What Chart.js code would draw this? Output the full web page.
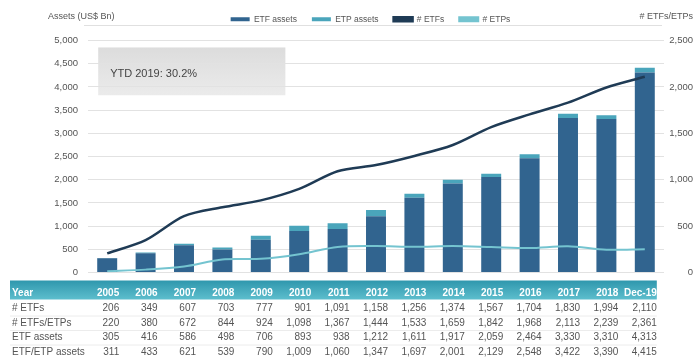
<!DOCTYPE html>
<html>
<head>
<meta charset="utf-8">
<script src="https://cdn.jsdelivr.net/npm/chart.js@4/dist/chart.umd.min.js"></script>
<style>
  html, body { margin: 0; padding: 0; background: #fff; }
  #wrap { width: 699px; height: 358px; }
</style>
</head>
<body>
<div id="wrap"><canvas id="etf-chart"></canvas></div>
<script>
const years = ['2005', '2006', '2007', '2008', '2009', '2010', '2011', '2012', '2013', '2014', '2015', '2016', '2017', '2018', 'Dec-19'];
const etfCount = [206, 349, 607, 703, 777, 901, 1091, 1158, 1256, 1374, 1567, 1704, 1830, 1994, 2110];
const totalCount = [220, 380, 672, 844, 924, 1098, 1367, 1444, 1533, 1659, 1842, 1968, 2113, 2239, 2361];
const etpCount = [14, 31, 65, 141, 147, 197, 276, 286, 277, 285, 275, 264, 283, 245, 251];
const etfAssets = [305, 416, 586, 498, 706, 893, 938, 1212, 1611, 1917, 2059, 2464, 3330, 3310, 4313];
const etpAssets = [6, 17, 35, 41, 84, 116, 122, 135, 86, 84, 70, 84, 92, 80, 102];
const totalAssets = [311, 433, 621, 539, 790, 1009, 1060, 1347, 1697, 2001, 2129, 2548, 3422, 3390, 4415];

const tableRows = [
  ['# ETFs', etfCount],
  ['# ETFs/ETPs', totalCount],
  ['ETF assets', etfAssets],
  ['ETF/ETP assets', totalAssets]
];

const textGrey = '#555';
const fmt = v => v.toLocaleString('en-US');

// a bit more room under the legend
const legendGap = {
  id: 'legendGap',
  beforeInit(chart) {
    const fit = chart.legend.fit;
    chart.legend.fit = function () {
      fit.call(this);
      this.height += 7;
    };
  }
};

// grey "YTD" box, titles and the data table under the plot
const extras = {
  id: 'extras',
  beforeDraw(chart) {
    const { ctx, scales: { x, y }, chartArea } = chart;
    const x0 = x.getPixelForValue(0) - 9;
    const x1 = x.getPixelForValue(4.64);
    const y0 = y.getPixelForValue(4850);
    const y1 = y.getPixelForValue(3820);
    ctx.save();
    const g = ctx.createLinearGradient(0, y0, 0, y1);
    g.addColorStop(0, '#dcdcdc');
    g.addColorStop(1, '#ebebeb');
    ctx.fillStyle = g;
    ctx.fillRect(x0, y0, x1 - x0, y1 - y0);
    ctx.fillStyle = '#444';
    ctx.font = '11px "Liberation Sans", Arial, sans-serif';
    ctx.textBaseline = 'middle';
    ctx.textAlign = 'left';
    ctx.fillText('YTD 2019: 30.2%', x0 + 12, y.getPixelForValue(4000) - 13);

    // line under legend
    ctx.strokeStyle = '#e0e0e0';
    ctx.lineWidth = 1;
    ctx.beginPath();
    ctx.moveTo(chartArea.left - 4, 25.5);
    ctx.lineTo(chartArea.right - 2, 25.5);
    ctx.stroke();

    ctx.fillStyle = textGrey;
    ctx.font = '9px "Liberation Sans", Arial, sans-serif';
    ctx.fillText('Assets (US$ Bn)', 48, 17);
    ctx.textAlign = 'right';
    ctx.fillText('# ETFs/ETPs', 693, 17);
    ctx.restore();
  },
  afterDraw(chart) {
    const { ctx, scales: { x }, chartArea } = chart;
    const top = chartArea.bottom + 8;
    const right = x.getPixelForValue(years.length - 1) + 12;
    ctx.save();
    const g = ctx.createLinearGradient(0, top, 0, top + 19);
    g.addColorStop(0, '#2f97ad');
    g.addColorStop(1, '#5dbecd');
    ctx.fillStyle = g;
    ctx.fillRect(10, top, right - 10, 19);

    ctx.textBaseline = 'middle';
    ctx.fillStyle = '#fff';
    ctx.font = 'bold 10px "Liberation Sans", Arial, sans-serif';
    ctx.textAlign = 'left';
    ctx.fillText('Year', 12, top + 13);
    ctx.textAlign = 'right';
    years.forEach((yr, i) => ctx.fillText(yr, x.getPixelForValue(i) + 12, top + 13));

    ctx.font = '10px "Liberation Sans", Arial, sans-serif';
    tableRows.forEach(([label, vals], r) => {
      const ry = top + 28 + r * 14.5;
      ctx.strokeStyle = '#ececec';
      ctx.beginPath();
      ctx.moveTo(10, ry + 7.5);
      ctx.lineTo(right, ry + 7.5);
      ctx.stroke();
      ctx.fillStyle = textGrey;
      ctx.textAlign = 'left';
      ctx.fillText(label, 12, ry);
      ctx.textAlign = 'right';
      vals.forEach((v, i) => ctx.fillText(fmt(v), x.getPixelForValue(i) + 12, ry));
    });
    ctx.restore();
  }
};

const ctx = document.getElementById('etf-chart').getContext('2d');

new Chart(ctx, {
  data: {
    labels: years,
    datasets: [
      {
        type: 'bar',
        label: 'ETF assets',
        data: etfAssets,
        backgroundColor: '#31648f',
        yAxisID: 'y',
        stack: 'assets',
        order: 1,
        barPercentage: 0.52,
        categoryPercentage: 1
      },
      {
        type: 'bar',
        label: 'ETP assets',
        data: etpAssets,
        backgroundColor: '#4aa5bb',
        yAxisID: 'y',
        stack: 'assets',
        order: 1,
        barPercentage: 0.52,
        categoryPercentage: 1
      },
      {
        type: 'line',
        label: '# ETFs',
        data: etfCount,
        borderColor: '#1f3b55',
        backgroundColor: '#1f3b55',
        borderWidth: 2.5,
        pointRadius: 0,
        tension: 0.3,
        yAxisID: 'y2',
        stack: 'l1',
        order: 0
      },
      {
        type: 'line',
        label: '# ETPs',
        data: etpCount,
        borderColor: '#74c4d0',
        backgroundColor: '#74c4d0',
        borderWidth: 2,
        pointRadius: 0,
        tension: 0.3,
        yAxisID: 'y2',
        stack: 'l2',
        order: 0
      }
    ]
  },
  options: {
    responsive: true,
    maintainAspectRatio: false,
    animation: false,
    layout: { padding: { left: 48, right: 6, top: 0, bottom: 85.5 } },
    plugins: {
      tooltip: { enabled: false },
      legend: {
        position: 'top',
        align: 'center',
        labels: {
          boxWidth: 19,
          boxHeight: 4,
          padding: 15,
          color: textGrey,
          font: { family: '"Liberation Sans", Arial, sans-serif', size: 8.5 },
          sort: (a, b) => a.datasetIndex - b.datasetIndex
        }
      }
    },
    scales: {
      x: {
        display: false,
        stacked: true
      },
      y: {
        position: 'left',
        stacked: true,
        min: 0,
        max: 5000,
        afterFit: s => { s.width = 40; },
        ticks: {
          stepSize: 500,
          padding: 10,
          color: textGrey,
          font: { family: '"Liberation Sans", Arial, sans-serif', size: 9.5 }
        },
        grid: { color: '#e2e2e2', drawTicks: false },
        border: { display: false }
      },
      y2: {
        position: 'right',
        min: 0,
        max: 2500,
        afterFit: s => { s.width = 29; },
        ticks: {
          stepSize: 500,
          padding: 6,
          crossAlign: 'far',
          color: textGrey,
          font: { family: '"Liberation Sans", Arial, sans-serif', size: 9.5 }
        },
        grid: { display: false, drawTicks: false },
        border: { display: false }
      }
    }
  },
  plugins: [legendGap, extras]
});
</script>
</body>
</html>
